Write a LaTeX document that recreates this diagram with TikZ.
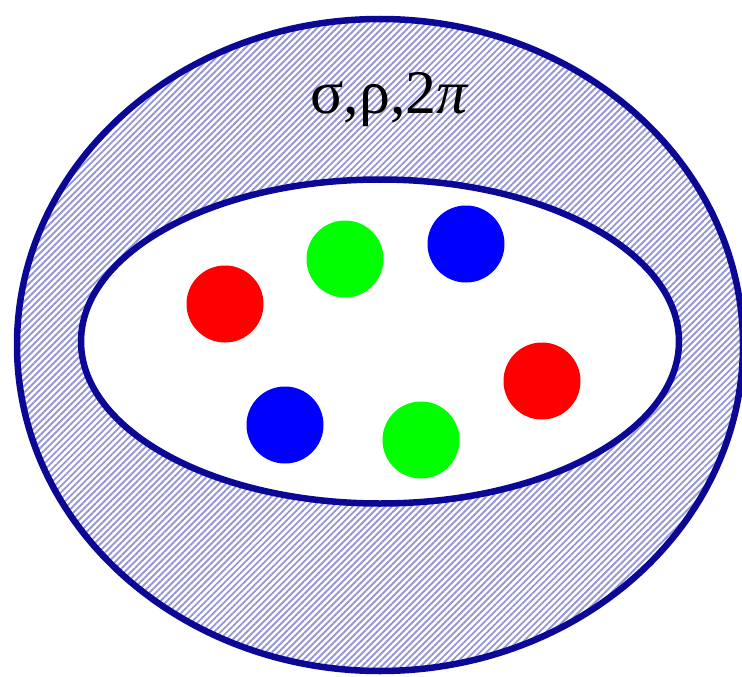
\documentclass[tikz,border=0pt]{standalone}
\usepackage{fontspec}
\setmainfont{Liberation Serif}
\usetikzlibrary{patterns.meta}
\definecolor{navy}{RGB}{12,8,150}
\definecolor{hatch}{RGB}{150,150,215}
\definecolor{bred}{RGB}{255,0,0}
\definecolor{bgreen}{RGB}{0,255,0}
\definecolor{bblue}{RGB}{0,0,255}
\tikzset{
  border/.style={draw=navy, line width=6.5pt},
  ball/.style={circle, minimum size=77pt, inner sep=0pt, fill=#1},
}
\begin{document}
\begin{tikzpicture}[x=1pt,y=-1pt]
\useasboundingbox (0,0) rectangle (742,677);
\fill[white] (380,345) ellipse [x radius=363, y radius=326];
\fill[pattern={Lines[angle=45,distance=4.6pt,line width=1.9pt]}, pattern color=hatch] (380,345) ellipse [x radius=363, y radius=326];
\draw[border] (380,345) ellipse [x radius=363, y radius=326];
\draw[border, fill=white] (380,341.5) ellipse [x radius=299, y radius=162];
\node[font=\fontsize{62}{66}\selectfont] (lbl) at (390,100) {σ,ρ,2\textit{π}};
\node[ball=bred] (r1) at (225,304) {};
\node[ball=bgreen] (g1) at (345,259) {};
\node[ball=bblue] (b1) at (466,244) {};
\node[ball=bred] (r2) at (542,381) {};
\node[ball=bblue] (b2) at (285,425) {};
\node[ball=bgreen] (g2) at (421,440) {};
\end{tikzpicture}
\end{document}
